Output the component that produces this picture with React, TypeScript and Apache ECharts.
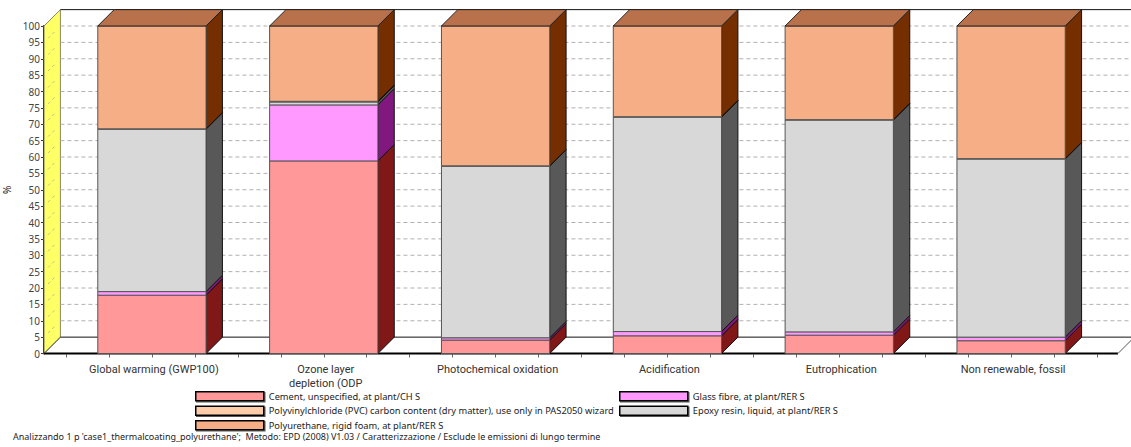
import React, { useEffect, useRef } from "react";
import * as echarts from "echarts";

// Impact categories on the x axis
const categories = [
  "Global warming (GWP100)",
  "Ozone layer\ndepletion (ODP",
  "Photochemical oxidation",
  "Acidification",
  "Eutrophication",
  "Non renewable, fossil",
];

// Share of each process per category, in percent, bottom to top of the stack
const cement = [17.8, 58.8, 4.1, 5.4, 5.6, 3.9];
const glassFibre = [1.1, 17.1, 0.7, 1.3, 1.0, 1.1];
const epoxyResin = [49.6, 0.9, 52.4, 65.5, 64.7, 54.4];
const pvc = [0.1, 0.2, 0.1, 0.1, 0.1, 0.1];
const polyurethane = [31.4, 23.0, 42.7, 27.7, 28.6, 40.5];

const cementName = "Cement, unspecified, at plant/CH S";
const glassName = "Glass fibre, at plant/RER S";
const epoxyName = "Epoxy resin, liquid, at plant/RER S";
const pvcName = "Polyvinylchloride (PVC) carbon content (dry matter), use only in PAS2050 wizard";
const polyurethaneName = "Polyurethane, rigid foam, at plant/RER S";

const footer =
  "Analizzando 1 p 'case1_thermalcoating_polyurethane';  Metodo: EPD (2008) V1.03 / Caratterizzazione / Esclude le emissioni di lungo termine";

const TICK_FONT = "Noto Sans";
const NARROW_FONT = "Roboto";

// One 5% step on the value axis sets the depth of the 3D projection
const depthOf = (api: any) => api.size([0, 5])[1];

// Walls, floor and dashed grid of the 3D box behind the bars
function renderFrame(params: any, api: any) {
  const d = depthOf(api);
  const cs = params.coordSys;
  const left = cs.x - (d * 22) / 16.4;
  const right = cs.x + cs.width + (d * 21) / 16.4;
  const y0 = api.coord([0, 0])[1];
  const y100 = api.coord([0, 100])[1];
  const edge = 1200;
  const children: any[] = [
    {
      type: "polygon",
      shape: { points: [[left, y0], [left + d, y0 - d], [left + d, y100 - d], [left, y100]] },
      style: { fill: "#FFFF66", stroke: "#8a8a60", lineWidth: 1 },
    },
    { type: "line", shape: { x1: left + d, y1: y100 - d, x2: edge, y2: y100 - d }, style: { stroke: "#111", lineWidth: 1 } },
    { type: "line", shape: { x1: left + d, y1: y0 - d, x2: edge, y2: y0 - d }, style: { stroke: "#111", lineWidth: 1 } },
    { type: "line", shape: { x1: left, y1: y0, x2: right, y2: y0 }, style: { stroke: "#000", lineWidth: 2 } },
    { type: "line", shape: { x1: left, y1: y0, x2: left + d, y2: y0 - d }, style: { stroke: "#555", lineWidth: 1 } },
    { type: "line", shape: { x1: right, y1: y0, x2: right + d, y2: y0 - d }, style: { stroke: "#555", lineWidth: 1 } },
  ];
  for (let v = 5; v < 100; v += 5) {
    const y = api.coord([0, v])[1];
    if (v > 5) {
      children.push({
        type: "line",
        shape: { x1: left + d, y1: y, x2: edge, y2: y },
        style: { stroke: "#b0b0b0", lineWidth: 1, lineDash: [4, 3] },
      });
    }
    children.push({
      type: "line",
      shape: { x1: left + 4, y1: y - 4, x2: left + d - 4, y2: y - d + 4 },
      style: { stroke: "#c0c090", lineWidth: 1, lineDash: [3, 3] },
    });
  }
  children.push({
    type: "line",
    shape: { x1: left + d, y1: y100, x2: edge, y2: y100 },
    style: { stroke: "#b0b0b0", lineWidth: 1, lineDash: [4, 3] },
  });
  return { type: "group", children };
}

// A stack segment as a front face, a right side face and, on the top layer, a lid
const boxRenderer = (front: string, side: string, lid?: string) => (params: any, api: any) => {
  const d = depthOf(api);
  const c0 = api.coord([api.value(0), api.value(1)]);
  const c1 = api.coord([api.value(0), api.value(2)]);
  const width = api.size([1, 0])[0] * 0.63;
  const x0 = c0[0] - width / 2;
  const x1 = c0[0] + width / 2;
  const children: any[] = [
    {
      type: "polygon",
      shape: { points: [[x1, c0[1]], [x1 + d, c0[1] - d], [x1 + d, c1[1] - d], [x1, c1[1]]] },
      style: { fill: side, stroke: "#111", lineWidth: 1 },
    },
    {
      type: "rect",
      shape: { x: x0, y: c1[1], width, height: c0[1] - c1[1] },
      style: { fill: front, stroke: "#555", lineWidth: 1 },
    },
  ];
  if (lid) {
    children.push({
      type: "polygon",
      shape: { points: [[x0, c1[1]], [x0 + d, c1[1] - d], [x1 + d, c1[1] - d], [x1, c1[1]]] },
      style: { fill: lid, stroke: "#222", lineWidth: 1 },
    });
  }
  return { type: "group", children };
};

// Cumulative [category, base, top] rows for the stack
const stackRows = (layers: number[][], index: number) =>
  categories.map((_, i) => {
    const base = layers.slice(0, index).reduce((sum, layer) => sum + layer[i], 0);
    return [i, base, base + layers[index][i]];
  });

export default function App() {
  const ref = useRef<HTMLDivElement>(null);

  useEffect(() => {
    document.body.style.margin = "0";
    const chart = echarts.init(ref.current!, undefined, { renderer: "svg" });
    const layers = [cement, glassFibre, epoxyResin, pvc, polyurethane];
    const legendText = { fontFamily: TICK_FONT, fontSize: 9.3, lineHeight: 9, color: "#222" };
    const legendItem = { borderColor: "#000", borderWidth: 1.5, shadowColor: "#555", shadowOffsetX: 1, shadowOffsetY: 1, shadowBlur: 0 };
    const box = (name: string, index: number, color: string, side: string, lid?: string) => ({
      type: "custom",
      name,
      xAxisIndex: 0,
      renderItem: boxRenderer(color, side, lid),
      itemStyle: { color },
      encode: { x: 0, y: [1, 2] },
      data: stackRows(layers, index),
      z: 3 + index,
    });

    chart.setOption({
      animation: false,
      backgroundColor: "#fff",
      title: {
        text: footer,
        left: 13,
        top: 432,
        padding: 0,
        textStyle: { fontFamily: TICK_FONT, fontSize: 9, fontWeight: "normal", color: "#222" },
      },
      legend: [
        {
          orient: "vertical",
          left: 195,
          top: 391,
          padding: 0,
          itemWidth: 68,
          itemHeight: 9,
          itemGap: 4,
          icon: "rect",
          selectedMode: false,
          data: [cementName, pvcName, polyurethaneName],
          textStyle: legendText,
          itemStyle: legendItem,
        },
        {
          orient: "vertical",
          left: 619,
          top: 391,
          padding: 0,
          itemWidth: 68,
          itemHeight: 9,
          itemGap: 4,
          icon: "rect",
          selectedMode: false,
          data: [glassName, epoxyName],
          textStyle: legendText,
          itemStyle: legendItem,
        },
      ],
      grid: { left: 66, top: 26, width: 1031, height: 327.5, outerBoundsMode: "none" },
      xAxis: [
        {
          type: "category",
          data: categories,
          axisLine: { show: false },
          axisTick: { show: false },
          axisLabel: {
            interval: 0,
            margin: 9,
            padding: [0, 0, 0, 4],
            fontFamily: NARROW_FONT,
            fontSize: 11,
            lineHeight: 14,
            color: "#333",
          },
        },
        {
          // Finer tick marks along the floor, four per category
          type: "value",
          position: "bottom",
          min: 0,
          max: 24,
          interval: 1,
          offset: 1,
          axisLine: { show: false, onZero: false },
          axisTick: { show: true, inside: false, length: 3, lineStyle: { color: "#666" } },
          axisLabel: { show: false },
          splitLine: { show: false },
        },
      ],
      yAxis: {
        type: "value",
        min: 0,
        max: 100,
        interval: 5,
        offset: 22,
        name: "%",
        nameLocation: "middle",
        nameGap: 23,
        nameRotate: 90,
        nameTextStyle: { fontFamily: TICK_FONT, fontSize: 10, color: "#222" },
        axisLine: { show: true, onZero: false, lineStyle: { color: "#000", width: 2 } },
        axisTick: { show: true, length: 3, lineStyle: { color: "#333" } },
        axisLabel: { margin: 4, fontFamily: TICK_FONT, fontSize: 10, color: "#444" },
        splitLine: { show: false },
      },
      series: [
        {
          type: "custom",
          name: "frame",
          xAxisIndex: 0,
          renderItem: renderFrame,
          encode: { x: 0, y: 1 },
          data: [[0, 0]],
          silent: true,
          z: 1,
        },
        box(cementName, 0, "#FF9999", "#801818"),
        box(glassName, 1, "#FF99FF", "#801880"),
        box(epoxyName, 2, "#D8D8D8", "#585858"),
        box(pvcName, 3, "#FFCCAA", "#7A4A2A"),
        box(polyurethaneName, 4, "#F5AE85", "#742E00", "#B8714A"),
      ],
    });
    return () => chart.dispose();
  }, []);

  return <div ref={ref} style={{ width: 1131, height: 447, overflow: "hidden" }} />;
}
